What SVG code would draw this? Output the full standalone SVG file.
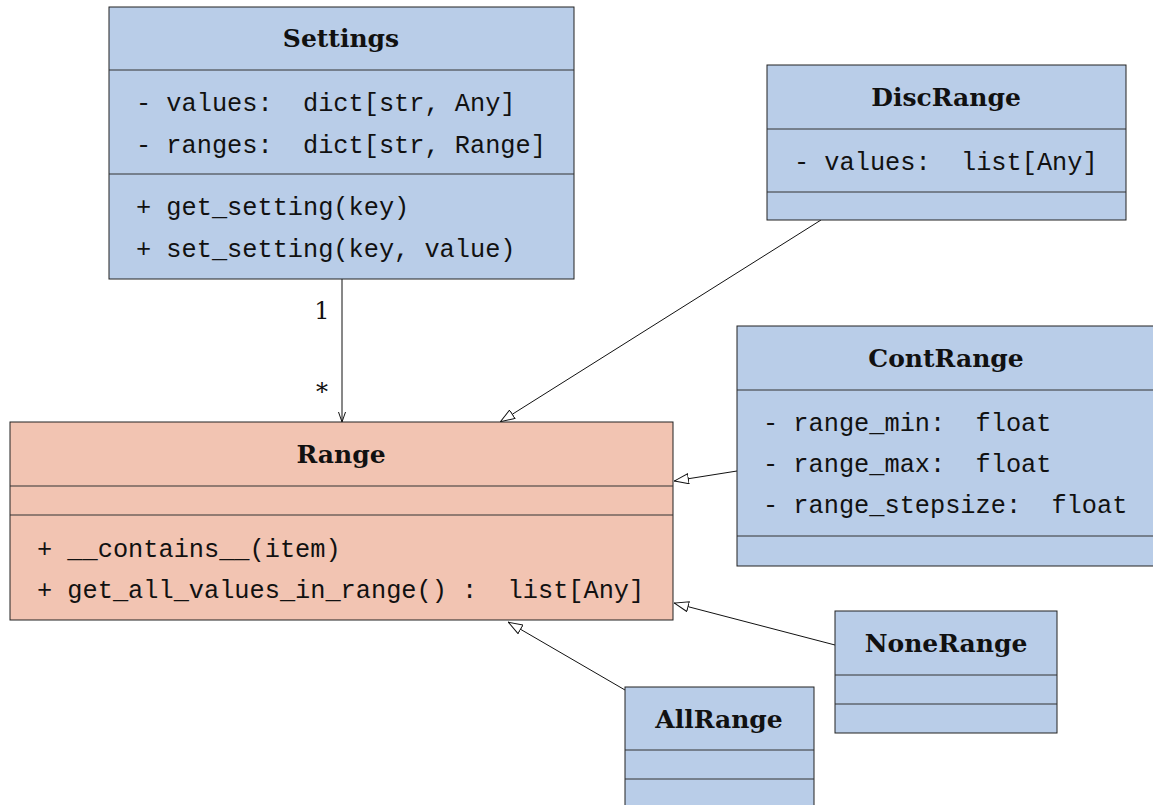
<svg xmlns="http://www.w3.org/2000/svg" width="1153" height="805" viewBox="0 0 1153 805">
<style>
.blue{fill:#b9cde8;stroke:#222;stroke-width:1}
.red{fill:#f2c4b2;stroke:#222;stroke-width:1}
.sep{stroke:#333;stroke-width:1}
.title{font-family:"DejaVu Serif","Liberation Serif",serif;font-weight:bold;font-size:25px;text-anchor:middle;fill:#111}
.mono{font-family:"Liberation Mono","DejaVu Sans Mono",monospace;font-size:25.3px;fill:#111;white-space:pre}
.lbl{font-family:"DejaVu Serif","Liberation Serif",serif;font-size:24px;fill:#111;text-anchor:middle}
.conn{stroke:#111;stroke-width:1;fill:none}
</style>
<defs>
<marker id="tri" viewBox="0 0 15 11" refX="15" refY="5.5" markerWidth="15" markerHeight="11" markerUnits="userSpaceOnUse" orient="auto">
<path d="M0.5,0.5 L14.5,5.5 L0.5,10.5 Z" fill="#fff" stroke="#111" stroke-width="1"/>
</marker>
<marker id="open" viewBox="0 0 10 8" refX="10" refY="4" markerWidth="10" markerHeight="8" markerUnits="userSpaceOnUse" orient="auto">
<path d="M0,0.5 L10,4 L0,7.5" fill="none" stroke="#111" stroke-width="1"/>
</marker>
</defs>
<rect width="1153" height="805" fill="#fff"/>
<g id="connectors">
<line class="conn" x1="342" y1="279" x2="342" y2="422" marker-end="url(#open)"/>
<line class="conn" x1="821" y1="220" x2="500" y2="422" marker-end="url(#tri)"/>
<line class="conn" x1="737" y1="471" x2="674" y2="481" marker-end="url(#tri)"/>
<line class="conn" x1="835" y1="645" x2="674" y2="603" marker-end="url(#tri)"/>
<line class="conn" x1="625" y1="690" x2="508" y2="622" marker-end="url(#tri)"/>
<text class="lbl" x="322" y="319">1</text>
<text class="lbl" x="322" y="400">*</text>
</g>
<g id="Settings">
<rect class="blue" x="109" y="7" width="465" height="272"/>
<line class="sep" x1="109" y1="70" x2="574" y2="70"/>
<line class="sep" x1="109" y1="174" x2="574" y2="174"/>
<text class="title" x="341" y="47">Settings</text>
<text class="mono" x="136" y="111">- values:  dict[str, Any]</text>
<text class="mono" x="136" y="153">- ranges:  dict[str, Range]</text>
<text class="mono" x="136" y="215">+ get_setting(key)</text>
<text class="mono" x="136" y="257">+ set_setting(key, value)</text>
</g>
<g id="DiscRange">
<rect class="blue" x="767" y="65" width="359" height="155"/>
<line class="sep" x1="767" y1="129" x2="1126" y2="129"/>
<line class="sep" x1="767" y1="192" x2="1126" y2="192"/>
<text class="title" x="946" y="106">DiscRange</text>
<text class="mono" x="794" y="170">- values:  list[Any]</text>
</g>
<g id="ContRange">
<rect class="blue" x="737" y="326" width="420" height="240"/>
<line class="sep" x1="737" y1="390" x2="1153" y2="390"/>
<line class="sep" x1="737" y1="536" x2="1153" y2="536"/>
<text class="title" x="946" y="367">ContRange</text>
<text class="mono" x="763" y="431">- range_min:  float</text>
<text class="mono" x="763" y="472">- range_max:  float</text>
<text class="mono" x="763" y="513">- range_stepsize:  float</text>
</g>
<g id="Range">
<rect class="red" x="10" y="422" width="663" height="198"/>
<line class="sep" x1="10" y1="486" x2="673" y2="486"/>
<line class="sep" x1="10" y1="515" x2="673" y2="515"/>
<text class="title" x="341" y="463">Range</text>
<text class="mono" x="37" y="557">+ __contains__(item)</text>
<text class="mono" x="37" y="598">+ get_all_values_in_range() :  list[Any]</text>
</g>
<g id="NoneRange">
<rect class="blue" x="835" y="611" width="222" height="122"/>
<line class="sep" x1="835" y1="675" x2="1057" y2="675"/>
<line class="sep" x1="835" y1="704" x2="1057" y2="704"/>
<text class="title" x="946" y="652">NoneRange</text>
</g>
<g id="AllRange">
<rect class="blue" x="625" y="687" width="189" height="130"/>
<line class="sep" x1="625" y1="750" x2="814" y2="750"/>
<line class="sep" x1="625" y1="779" x2="814" y2="779"/>
<text class="title" x="719" y="728">AllRange</text>
</g>
</svg>
